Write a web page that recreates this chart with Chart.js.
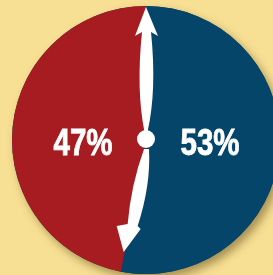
<!DOCTYPE html>
<html>
<head>
<meta charset="utf-8">
<script src="https://cdn.jsdelivr.net/npm/chart.js@4"></script>
<style>
  html, body { margin: 0; padding: 0; overflow: hidden; background: #f7df93; }
  #wrap { position: absolute; left: 0; top: 0; width: 292px; height: 280px; }
</style>
</head>
<body>
<div id="wrap"><canvas id="pieChart"></canvas></div>
<script>
// shares, clockwise from the top
const labels = ['Right', 'Left'];
const shares = [53, 47];
const sliceColors = ['#044569', '#a71c20'];

// soft shadow under the pie
const shadowPlugin = {
    id: 'pieShadow',
    beforeDatasetsDraw(chart) {
        const arc = chart.getDatasetMeta(0).data[0];
        const ctx = chart.ctx;
        ctx.save();
        ctx.shadowColor = 'rgba(90, 70, 20, 0.5)';
        ctx.shadowBlur = 8;
        ctx.shadowOffsetX = 4;
        ctx.shadowOffsetY = 5;
        ctx.fillStyle = sliceColors[0];
        ctx.beginPath();
        ctx.arc(arc.x, arc.y, arc.outerRadius, 0, Math.PI * 2);
        ctx.fill();
        ctx.restore();
    }
};

// white arrows along the slice boundary + percent labels
const arrowPlugin = {
    id: 'arrows',
    afterDatasetsDraw(chart) {
        const arc = chart.getDatasetMeta(0).data[0];
        const cx = arc.x, cy = arc.y, r = arc.outerRadius;
        const ctx = chart.ctx;
        ctx.save();
        ctx.fillStyle = '#fff';

        // upper arrow
        const topY = cy - r + 1;
        ctx.beginPath();
        ctx.moveTo(cx, topY);
        ctx.lineTo(cx + 12, topY + 29);
        ctx.lineTo(cx + 5, topY + 25);
        ctx.quadraticCurveTo(cx + 11, cy - 50, cx + 1.5, cy - 8);
        ctx.lineTo(cx - 1.5, cy - 8);
        ctx.quadraticCurveTo(cx - 10, cy - 50, cx - 4, topY + 25);
        ctx.lineTo(cx - 11, topY + 29);
        ctx.closePath();
        ctx.fill();

        // lower arrow, pointing at the end of the boundary
        const a = arc.endAngle;
        const tx = cx + r * 0.85 * Math.cos(a) - 1;
        const ty = cy + r * 0.85 * Math.sin(a);
        ctx.beginPath();
        ctx.moveTo(tx, ty);
        ctx.lineTo(tx + 17, ty - 23);
        ctx.lineTo(tx + 14, ty - 26);
        ctx.quadraticCurveTo(cx + 5, cy + 45, cx + 3, cy + 9);
        ctx.lineTo(cx - 2, cy + 9);
        ctx.quadraticCurveTo(cx - 15, cy + 45, tx + 4, ty - 28);
        ctx.lineTo(tx - 7, ty - 26);
        ctx.closePath();
        ctx.fill();

        // hub
        ctx.beginPath();
        ctx.arc(cx, cy - 1, 9, 0, Math.PI * 2);
        ctx.fill();

        // labels, squeezed to look condensed
        ctx.font = 'bold 36px "Liberation Sans", Arial, sans-serif';
        ctx.textAlign = 'center';
        ctx.textBaseline = 'alphabetic';
        ctx.strokeStyle = '#fff';
        ctx.lineWidth = 0.8;
        const drawLabel = (text, x, y) => {
            ctx.save();
            ctx.translate(x, y);
            ctx.scale(0.82, 1);
            ctx.fillText(text, 0, 0);
            ctx.strokeText(text, 0, 0);
            ctx.restore();
        };
        drawLabel(shares[1] + '%', cx - 63, cy + 15);
        drawLabel(shares[0] + '%', cx + 64, cy + 15);
        ctx.restore();
    }
};

new Chart(document.getElementById('pieChart'), {
    type: 'pie',
    data: {
        labels: labels,
        datasets: [{
            data: shares,
            backgroundColor: sliceColors,
            borderWidth: 0
        }]
    },
    options: {
        responsive: true,
        maintainAspectRatio: false,
        animation: false,
        layout: { padding: 6 },
        plugins: { legend: { display: false }, tooltip: { enabled: false } }
    },
    plugins: [shadowPlugin, arrowPlugin]
});
</script>
</body>
</html>
